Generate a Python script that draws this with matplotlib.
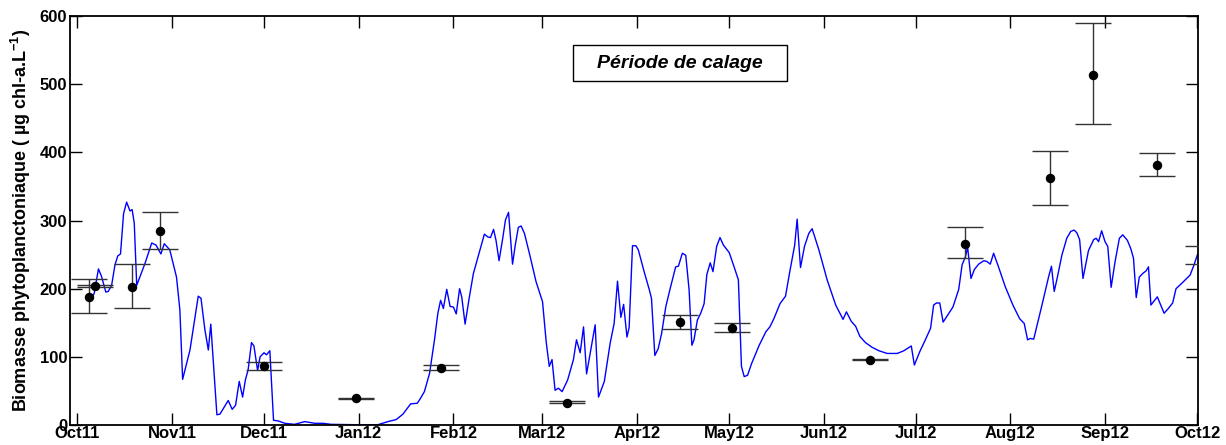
import matplotlib
matplotlib.use("Agg")
import matplotlib.pyplot as plt
import matplotlib.dates as mdates
from matplotlib.patches import Rectangle
import numpy as np
import pandas as pd

plt.rcParams['font.family'] = ['Liberation Sans', 'DejaVu Sans']
plt.rcParams['mathtext.fontset'] = 'custom'
plt.rcParams['mathtext.bf'] = 'Liberation Sans:bold'
plt.rcParams['mathtext.rm'] = 'Liberation Sans:bold'
plt.rcParams['mathtext.default'] = 'bf'

start = pd.Timestamp('2011-10-01')

# Model (blue line): day offset from 2011-10-01, biomass value
model_day = [4.8, 5.6, 7.0, 8.0, 9.4, 10.2, 11.3, 12.4, 13.3, 14.2, 15.2, 16.2, 17.3, 18.0, 18.7,
             19.5, 20.6, 22.2, 24.4, 25.8, 27.4, 28.5, 30.3, 31.4, 32.5, 33.6, 34.5, 36.9, 39.6,
             40.5, 41.8, 42.9, 43.7, 45.7, 46.7, 49.4, 50.7, 51.8, 53.0, 54.1, 55.0, 55.9, 57.0,
             57.8, 59.0, 59.8, 61.1, 61.9, 63.0, 64.2, 65.7, 67.9, 71.1, 74.4, 77.7, 80.4, 83.0,
             90.7, 98.3, 101.6, 104.3, 106.5, 109.0, 111.2, 112.2, 113.5, 115.2, 116.8, 117.9,
             118.8, 119.7, 120.8, 121.9, 123.0, 123.9, 125.0, 125.7, 126.8, 128.2, 129.5, 131.5,
             133.1, 134.2, 135.1, 136.1, 136.9, 137.9, 139.1, 140.0, 141.0, 142.3, 143.2, 144.2,
             145.1, 146.2, 147.8, 150.0, 152.1, 153.3, 154.3, 155.2, 156.2, 157.3, 158.5, 160.3,
             162.2, 163.2, 164.4, 165.5, 166.5, 169.3, 170.4, 172.3, 174.2, 175.5, 176.6, 177.7,
             178.6, 179.7, 180.4, 181.5, 182.6, 183.4, 185.3, 186.9, 187.7, 188.8, 189.9, 191.0,
             192.4, 193.8, 195.6, 196.5, 197.8, 198.9, 200.0, 200.9, 201.6, 202.7, 203.8, 204.9,
             205.8, 206.9, 207.8, 209.0, 210.1, 211.2, 213.1, 214.7, 216.1, 217.1, 218.0, 219.1,
             220.4, 222.9, 225.1, 226.4, 227.7, 229.7, 231.5, 232.9, 234.5, 235.3, 236.4, 237.7,
             239.1, 240.2, 242.4, 245.1, 247.9, 250.3, 251.4, 253.0, 254.4, 255.8, 257.6, 259.8,
             262.0, 264.7, 268.0, 270.2, 272.6, 273.6, 275.4, 277.2, 278.9, 279.9, 280.8, 281.9,
             283.0, 284.3, 286.2, 288.1, 289.2, 290.3, 291.0, 292.1, 293.2, 294.6, 296.3, 297.3,
             298.4, 299.5, 301.1, 303.3, 305.8, 308.0, 309.5, 310.6, 311.5, 312.6, 315.3, 317.5,
             318.4, 319.3, 320.2, 321.8, 323.4, 324.7, 325.8, 326.7, 327.6, 328.7, 330.5, 332.2,
             333.0, 333.8, 334.8, 335.9, 336.8, 337.9, 339.2, 340.6, 341.7, 343.2, 344.3, 345.2,
             346.1, 347.1, 348.4, 349.3, 350.1, 350.9, 353.0, 355.2, 356.6, 358.0, 359.1, 361.0,
             363.7, 365.0, 366.1]
model_val = [186, 193, 229, 218, 195, 196, 205, 235, 248, 251, 310, 327, 314, 316, 296,
             205, 218, 237, 267, 264, 251, 266, 257, 237, 217, 169, 67, 110, 189,
             186, 139, 110, 148, 15, 16, 36, 23, 29, 64, 41, 66, 81, 121,
             116, 80, 100, 106, 103, 109, 7, 6, 2.5, 1, 5, 2.5, 2.5, 1,
             0.5, 0.5, 5, 8, 16, 31, 32, 39, 49, 76, 125, 164,
             183, 171, 199, 174, 173, 163, 200, 188, 148, 188, 222, 254,
             280, 276, 275, 287, 271, 241, 274, 301, 312, 236, 264, 290,
             292, 281, 252, 210, 181, 122, 86, 96, 51, 54, 49, 66,
             96, 125, 106, 144, 75, 147, 41, 64, 120, 149, 211, 158,
             177, 129, 143, 263, 263, 257, 225, 200, 186, 102, 112, 134,
             174, 200, 232, 233, 252, 249, 198, 117, 125, 154, 164, 178,
             221, 238, 225, 262, 275, 264, 253, 232, 213, 86, 71, 73,
             90, 117, 137, 144, 156, 178, 189, 225, 264, 302, 231, 262,
             281, 288, 257, 213, 176, 155, 166, 152, 145, 130, 121, 114,
             109, 105, 105, 109, 116, 88, 108, 125, 142, 176, 179, 179,
             151, 160, 173, 199, 235, 247, 261, 215, 228, 236, 241, 240,
             236, 252, 232, 203, 176, 156, 149, 125, 127, 126, 176, 218,
             233, 196, 214, 249, 274, 284, 286, 282, 272, 215, 256, 272,
             274, 269, 285, 269, 262, 202, 240, 274, 279, 271, 259, 245,
             187, 217, 223, 226, 232, 176, 188, 164, 171, 179, 200, 208,
             220, 235, 250]

# Observations: day offset, mean, lower bound, upper bound
obs_day = [4, 6, 18, 27, 61, 91, 119, 160, 197, 214, 259, 290, 318, 332, 353, 368]
obs_val = [188, 204, 202, 285, 86, 39, 84, 33, 151, 142, 96, 266, 362, 514, 381, 250]
obs_low = [165, 202, 171, 258, 81, 38, 80, 32, 141, 137, 95, 245, 323, 441, 365, 236]
obs_high = [214, 206, 236, 312, 93, 40, 88, 35, 162, 149, 97, 290, 402, 590, 399, 263]

ylabel = r'Biomasse phytoplanctoniaque ( µg chl-a.L$^{-1}$)'
box_text = 'Période de calage'

model_dates = start + pd.to_timedelta(np.array(model_day), unit='D')
obs_dates = start + pd.to_timedelta(np.array(obs_day), unit='D')
obs_val_a = np.array(obs_val, dtype=float)
yerr = np.vstack([obs_val_a - np.array(obs_low), np.array(obs_high) - obs_val_a])

fig = plt.figure(figsize=(12.26, 4.45), dpi=100)
ax = fig.add_axes([0.0571, 0.0449, 0.9201, 0.9191])

ax.plot(model_dates, model_val, color='#0000ff', lw=1.0, zorder=2)
ax.errorbar(obs_dates, obs_val_a, yerr=yerr, fmt='o', color='black', ms=5.8,
            ecolor='#333333', elinewidth=1.0, capsize=12.8, capthick=1.0, zorder=3)

ax.set_xlim(start - pd.Timedelta(days=2.3), start + pd.Timedelta(days=366.3))
ax.set_ylim(0, 600)
ax.set_yticks([0, 100, 200, 300, 400, 500, 600])
ax.xaxis.set_major_locator(mdates.MonthLocator())
ax.xaxis.set_major_formatter(mdates.DateFormatter('%b%y'))

ax.tick_params(axis='both', direction='in', length=8.5, width=1.0,
               top=True, right=True, labelsize=12, pad=2)
ax.tick_params(axis='x', pad=1)
for lab in ax.get_xticklabels() + ax.get_yticklabels():
    lab.set_fontweight('bold')
for sp in ax.spines.values():
    sp.set_linewidth(1.3)

ax.set_ylabel(ylabel, fontsize=13, fontweight='bold', labelpad=5)

ax.add_patch(Rectangle((0.446, 0.841), 0.190, 0.088, transform=ax.transAxes,
                       fill=False, edgecolor='black', lw=1.0, zorder=4))
ax.text(0.541, 0.885, box_text, transform=ax.transAxes, ha='center', va='center',
        fontsize=14, fontweight='bold', fontstyle='italic', zorder=5)

fig.savefig('out.png', dpi=100)
